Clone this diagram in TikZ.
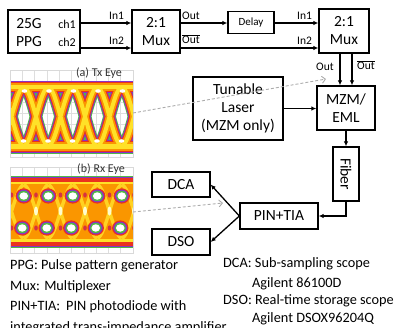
\documentclass[tikz,border=0pt]{standalone}
\usepackage{fontspec}
\setmainfont{Carlito}
\usetikzlibrary{arrows.meta}
\definecolor{eyegreen}{RGB}{80,185,70}
\definecolor{eyepurple}{RGB}{135,50,200}
\definecolor{eyered}{RGB}{235,50,30}
\definecolor{eyeorange}{RGB}{250,150,0}
\definecolor{eyeyellow}{RGB}{255,225,40}
\definecolor{gridgray}{RGB}{222,222,222}
\begin{document}
\begin{tikzpicture}[x=1pt,y=-1pt,
  box/.style={draw, line width=1.3pt, inner sep=0pt, align=center,
    font=\fontsize{15.5}{18}\selectfont},
  boxtxt/.style={inner sep=0pt, align=center, font=\fontsize{15.5}{18}\selectfont},
  lbl/.style={inner sep=0pt, font=\fontsize{11.5}{13}\selectfont},
  arr/.style={line width=1.3pt, -{Latex[length=5pt,width=4.5pt]}},
  dasharr/.style={gray!65, line width=0.9pt, dash pattern=on 3pt off 2pt,
    -{Straight Barb[length=3.5pt,width=7pt]}},
  legend/.style={inner sep=0pt, anchor=base west, font=\fontsize{14.3}{16}\selectfont},
  eyelbl/.style={inner sep=0pt, text=black!80, font=\fontsize{12}{13}\selectfont}
]
\useasboundingbox (0,0) rectangle (394,327);

% ---------- Tx eye ----------
\begin{scope}
\clip (10,70) rectangle (133,157);
\fill[white] (10,70) rectangle (133,157);
\foreach \gx in {10,22.3,...,134}{\draw[gridgray, line width=0.6pt] (\gx,70) -- (\gx,157);}
\foreach \gy in {70,80.9,...,158}{\draw[gridgray, line width=0.6pt] (10,\gy) -- (133,\gy);}
\foreach \col/\lw/\lt/\lb in {eyegreen/12.5/13/15,eyepurple/10.8/11.2/13.2,eyered/9.2/9.6/11.6,eyeorange/7.4/7.8/9.8,eyeyellow/4/4.2/5.4}{
  \draw[draw=\col, line width=\lt pt] (0,87) -- (140,87);
  \draw[draw=\col, line width=\lb pt] (0,146.5) -- (140,146.5);
  \foreach \k in {-2,...,4}{
    \pgfmathsetmacro\pa{36+24.5*\k-12.25}
    \pgfmathsetmacro\pb{36+24.5*\k-4}
    \pgfmathsetmacro\pc{36+24.5*\k+4}
    \pgfmathsetmacro\pd{36+24.5*\k+12.25}
    \draw[draw=\col, line width=\lw pt]
      (\pa,146) .. controls (\pb,146) and (\pc,87) .. (\pd,87)
      (\pa,87) .. controls (\pb,87) and (\pc,146) .. (\pd,146);
  }
}
\foreach \k in {0,...,4}{
  \fill[white] ({24.5+24.5*\k},91) ellipse (2.8 and 1.8);
  \fill[white] ({23.5+24.5*\k},141) ellipse (2.8 and 1.8);
}
\end{scope}
\draw[gray!30, line width=0.5pt] (10,70) rectangle (133,157);
\node[eyelbl] (txlbl) at (99,73.5) {(a) Tx Eye};

% ---------- Rx eye ----------
\begin{scope}
\clip (10,167) rectangle (133,253);
\fill[white] (10,167) rectangle (133,253);
\foreach \gx in {10,22.3,...,134}{\draw[gridgray, line width=0.6pt] (\gx,167) -- (\gx,253);}
\foreach \gy in {167,177.8,...,254}{\draw[gridgray, line width=0.6pt] (10,\gy) -- (133,\gy);}
\foreach \col/\lw in {eyegreen/9,eyepurple/7.4,eyered/5.8}{
  \draw[draw=\col, line width=\lw pt] (0,180.5) -- (140,180.5) (0,243) -- (140,243);
}
\fill[eyeorange] (0,181.5) rectangle (140,242);
\draw[eyeyellow, line width=2.6pt] (0,183) -- (140,183) (0,240.5) -- (140,240.5);
\foreach \k in {-2,...,4}{
  \pgfmathsetmacro\pa{36+24.5*\k-12.25}
  \pgfmathsetmacro\pb{36+24.5*\k-4}
  \pgfmathsetmacro\pc{36+24.5*\k+4}
  \pgfmathsetmacro\pd{36+24.5*\k+12.25}
  \draw[eyeyellow!85!orange, line width=3.4pt]
    (\pa,238) .. controls (\pb,238) and (\pc,185) .. (\pd,185)
    (\pa,185) .. controls (\pb,185) and (\pc,238) .. (\pd,238);
  \fill[eyered!80!eyepurple] (36+24.5*\k,195) ellipse (1.8 and 2.6);
  \fill[eyered!80!eyepurple] (36+24.5*\k,228) ellipse (1.8 and 2.6);
}
\foreach \k in {0,...,4}{
  \pgfmathsetmacro\hx{23.75+24.5*\k}
  \foreach \hy/\hs in {196/0,228/-1.5}{
    \pgfmathsetmacro\hxx{\hx+\hs}
    \fill[eyered] (\hxx,\hy) ellipse (8.2 and 7.6);
    \fill[eyepurple] (\hxx,\hy) ellipse (6.9 and 6.3);
    \fill[eyegreen] (\hxx,\hy) ellipse (5.8 and 5.2);
    \fill[white] (\hxx,\hy) ellipse (4.3 and 3.7);
  }
}
\foreach \k in {0,...,4}{
  \fill[yellow!20] ({36+24.5*\k},211) ellipse (2 and 4.5);
}
\end{scope}
\draw[gray!30, line width=0.5pt] (10,167) rectangle (133,253);
\node[eyelbl] (rxlbl) at (101,169) {(b) Rx Eye};

% ---------- boxes ----------
\node[box, minimum width=72pt, minimum height=43pt] (ppg) at (44,31.5) {};
\node[boxtxt] (ppgtxt) at (29,33) {25G\\PPG};
\node[inner sep=0pt, font=\fontsize{12}{13}\selectfont] (ch1) at (67,24) {ch1};
\node[inner sep=0pt, font=\fontsize{12}{13}\selectfont] (ch2) at (67,42.5) {ch2};
\node[box, minimum width=48pt, minimum height=43pt] (mux1) at (156,31.5) {2:1\\Mux};
\node[box, minimum width=46pt, minimum height=22pt, font=\fontsize{11}{12}\selectfont] (delay) at (251,22.5) {Delay};
\node[box, minimum width=50pt, minimum height=44pt] (mux2) at (344,31) {2:1\\Mux};
\node[box, minimum width=58pt, minimum height=44pt] (mzm) at (346,108) {MZM/\\EML};
\node[box, minimum width=90pt, minimum height=63pt] (laser) at (238,108.5) {Tunable\\Laser\\(MZM only)};
\node[box, minimum width=26pt, minimum height=54pt] (fiber) at (346,174) {};
\node[boxtxt, rotate=-90] (fibertxt) at (346,174) {Fiber};
\node[box, minimum width=78pt, minimum height=26pt] (pin) at (279,216) {PIN+TIA};
\node[box, minimum width=58pt, minimum height=25pt] (dca) at (181,184.5) {DCA};
\node[box, minimum width=58pt, minimum height=26pt] (dso) at (181,242) {DSO};

% ---------- connectors ----------
\coordinate (r1) at (0,23);
\coordinate (r2) at (0,48);
\coordinate (c1) at (340,0);
\coordinate (c2) at (352,0);
\draw[arr] (ppg.east |- r1) -- (mux1.west |- r1);
\draw[arr] (ppg.east |- r2) -- (mux1.west |- r2);
\draw[arr] (mux1.east |- r1) -- (delay.west |- r1);
\draw[arr] (delay.east |- r1) -- (mux2.west |- r1);
\draw[arr] (mux1.east |- r2) -- (mux2.west |- r2);
\draw[arr] (mux2.south -| c1) -- (mzm.north -| c1);
\draw[arr] (mux2.south -| c2) -- (mzm.north -| c2);
\draw[arr] (laser.east) -- (mzm.west |- laser.east);
\draw[arr] (mzm.south) -- (fiber.north);
\draw[arr] (fiber.south) -- (fiber.south |- pin.east) -- (pin.east);
\draw[arr] (pin.west) -- (dca.east);
\draw[arr] (pin.west) -- (dso.east);

% port labels
\node[lbl] (in1a) at (116.5,15.5) {In1};
\node[lbl] (in2a) at (116.5,40.5) {In2};
\node[lbl] (outa) at (191,15.5) {Out};
\node[lbl] (outba) at (191,39) {$\overline{\mbox{Out}}$};
\node[lbl] (in1b) at (304.5,15.5) {In1};
\node[lbl] (in2b) at (304.5,40.5) {In2};
\node[lbl] (outc) at (325,67) {Out};
\node[lbl] (outbc) at (366,65) {$\overline{\mbox{Out}}$};

% dashed pointers
\coordinate (txs) at (133,113);
\coordinate (txe) at (326,79);
\coordinate (rxs) at (133,212);
\coordinate (rxe) at (223,203);
\draw[dasharr] (txs) -- (txe);
\draw[dasharr] (rxs) -- (rxe);

% ---------- legend ----------
\node[legend] (l1) at (10,269) {PPG: Pulse pattern generator};
\node[legend] (l2) at (10,290) {Mux: Multiplexer};
\node[legend] (l3) at (10,310) {PIN+TIA:\hspace{6pt}PIN photodiode with};
\node[legend] (l4) at (10,331) {integrated trans-impedance amplifier};
\node[legend] (r1t) at (223,267) {DCA: Sub-sampling scope};
\node[legend] (r2t) at (252,287) {Agilent 86100D};
\node[legend] (r3t) at (223,304.5) {DSO: Real-time storage scope};
\node[legend] (r4t) at (252,322) {Agilent DSOX96204Q};
\end{tikzpicture}
\end{document}
